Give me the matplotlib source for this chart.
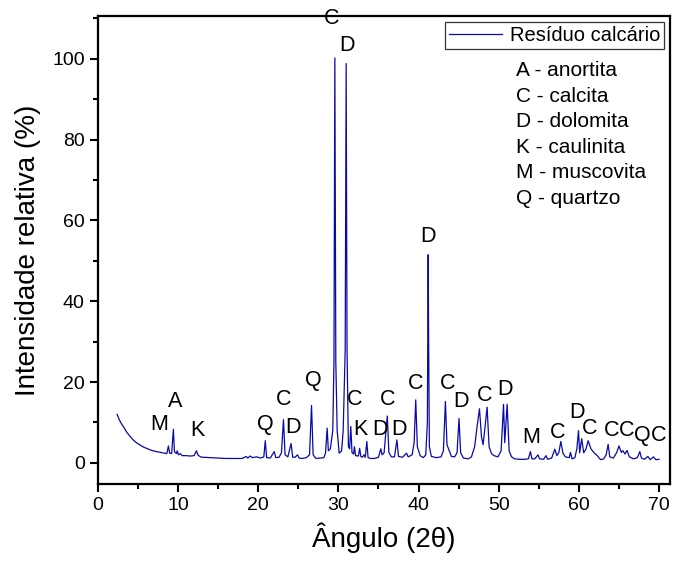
import matplotlib
matplotlib.use('Agg')
import matplotlib.pyplot as plt
from matplotlib.ticker import MultipleLocator

plt.rcParams['font.family'] = ['Liberation Sans', 'DejaVu Sans']

# 2theta (deg) and relative intensity (%)
two_theta = [
    2.4, 2.6, 2.8, 3.0, 3.3, 3.6, 4.0, 4.4, 4.8, 5.2, 5.7, 6.2, 6.7, 7.3, 7.8,
    8.3, 8.6, 8.8, 8.95, 9.2, 9.42, 9.55, 9.8, 9.9, 10.05, 10.3, 10.5, 11.0,
    11.5, 12.0, 12.3, 12.5, 12.8, 13.1, 14.0, 15.0, 16.0, 17.0, 18.0, 18.5,
    18.7, 19.0, 19.3, 19.8, 20.3, 20.7, 20.88, 21.05, 21.5, 22.0, 22.2, 22.6,
    22.9, 23.15, 23.35, 23.7, 24.1, 24.3, 24.6, 24.9, 25.1, 25.5, 26.0, 26.4,
    26.65, 26.85, 27.2, 27.7, 28.2, 28.4, 28.6, 28.75, 29.0, 29.3, 29.45,
    29.56, 29.68, 29.85, 30.1, 30.4, 30.6, 30.85, 30.97, 31.08, 31.25, 31.4,
    31.55, 31.7, 31.9, 32.0, 32.15, 32.5, 32.65, 32.8, 33.0, 33.2, 33.35,
    33.55, 33.7, 34.0, 34.5, 35.0, 35.3, 35.45, 35.7, 36.1, 36.3, 36.6, 37.0,
    37.3, 37.5, 38.0, 38.5, 38.7, 39.2, 39.45, 39.65, 39.85, 40.2, 40.6, 40.9,
    41.1, 41.2, 41.25, 41.35, 41.6, 42.2, 42.8, 43.1, 43.35, 43.55, 43.8,
    44.1, 44.5, 44.8, 45.05, 45.25, 45.6, 46.2, 46.6, 47.0, 47.3, 47.6, 47.85,
    48.05, 48.3, 48.55, 48.8, 49.1, 49.4, 49.9, 50.3, 50.6, 50.75, 51.05,
    51.3, 51.6, 52.0, 52.6, 53.2, 53.7, 53.95, 54.15, 54.5, 54.9, 55.1, 55.6,
    55.9, 56.1, 56.6, 57.0, 57.25, 57.5, 57.75, 58.0, 58.3, 58.8, 58.95,
    59.15, 59.5, 59.75, 59.95, 60.1, 60.35, 60.6, 60.9, 61.15, 61.5, 61.9,
    62.3, 62.7, 63.1, 63.4, 63.65, 63.85, 64.3, 64.7, 65.0, 65.3, 65.5, 65.75,
    66.0, 66.3, 66.8, 67.3, 67.6, 67.8, 68.2, 68.6, 68.9, 69.3, 69.6, 70.0,
]
intensity = [
    12.0, 11.0, 10.2, 9.5, 8.6, 7.6, 6.6, 5.7, 5.0, 4.5, 3.9, 3.5, 3.1, 2.8, 2.6,
    2.4, 2.3, 4.2, 2.4, 2.3, 8.3, 2.8, 2.3, 3.0, 2.0, 2.3, 1.8, 1.8,
    1.7, 1.8, 3.0, 1.9, 1.5, 1.4, 1.3, 1.2, 1.1, 1.1, 1.1, 1.6,
    1.2, 1.7, 1.3, 1.5, 1.2, 1.5, 5.5, 1.3, 1.2, 2.8, 1.3, 1.4,
    2.5, 10.7, 2.0, 1.5, 4.8, 1.4, 1.4, 2.0, 1.2, 1.1, 1.3, 2.0,
    14.2, 2.0, 1.1, 1.2, 1.3, 2.5, 8.6, 3.0, 3.5, 8.0, 25.0,
    100.2, 25.0, 8.0, 2.4, 3.0, 8.0, 28.0, 98.8, 28.0, 4.0, 3.5,
    9.0, 2.5, 2.2, 4.0, 1.8, 1.7, 3.6, 1.6, 1.4, 2.0, 1.4,
    5.3, 1.3, 1.1, 1.1, 1.4, 3.5, 2.0, 2.5, 11.6, 2.6, 1.5, 1.5,
    5.7, 1.6, 1.4, 2.4, 1.5, 2.0, 5.0, 15.6, 4.0, 1.8, 1.3, 2.0,
    10.0, 51.5, 33.0, 4.0, 1.6, 1.3, 1.5, 3.0, 15.2, 4.5, 3.2,
    1.6, 1.5, 2.5, 11.0, 2.5, 1.2, 1.0, 1.5, 4.0, 9.0, 13.4, 6.5,
    4.5, 9.0, 13.8, 4.0, 2.3, 1.8, 1.5, 3.0, 14.5, 5.0, 14.5,
    3.0, 1.5, 1.0, 0.9, 0.9, 1.0, 2.8, 1.0, 1.0, 2.0, 1.0, 0.9,
    1.8, 0.9, 1.2, 3.4, 1.8, 2.6, 5.3, 2.5, 1.5, 1.3, 2.6,
    1.0, 1.3, 3.5, 8.0, 2.5, 6.0, 2.5, 3.5, 5.5, 3.5, 2.5,
    1.8, 0.8, 1.0, 2.0, 4.6, 1.5, 1.2, 2.5, 4.2, 2.6, 3.0, 2.2,
    3.1, 1.5, 1.0, 1.3, 2.8, 1.2, 0.9, 1.6, 0.8, 1.5, 0.8, 0.9,
]

# phase letters over the peaks
peak_letters = ['M', 'A', 'K', 'Q', 'C', 'D', 'Q', 'C', 'D', 'C', 'K', 'D', 'C',
                'D', 'C', 'D', 'C', 'D', 'C', 'D', 'M', 'C', 'D', 'C', 'C', 'C',
                'Q', 'C']
peak_x = [7.6, 9.6, 12.4, 20.9, 23.2, 24.4, 26.9, 29.2, 31.1, 32.0, 32.7, 35.2,
          36.2, 37.6, 39.6, 41.2, 43.6, 45.3, 48.3, 50.8, 54.1, 57.4, 59.8,
          61.3, 64.1, 65.9, 67.9, 70.0]
peak_y = [9.4, 15.3, 7.9, 9.4, 15.8, 8.7, 20.3, 109.9, 103.2, 15.6, 8.2, 8.2,
          15.8, 8.2, 19.6, 55.9, 19.6, 15.1, 16.6, 18.1, 6.2, 7.4, 12.4, 8.4,
          7.9, 7.9, 6.9, 6.9]

phases = ['A - anortita', 'C - calcita', 'D - dolomita', 'K - caulinita',
          'M - muscovita', 'Q - quartzo']

fig = plt.figure(figsize=(6.75, 5.66), dpi=100)
ax = fig.add_axes([0.145, 0.145, 0.848, 0.827])

ax.plot(two_theta, intensity, color='#0a0aa8', lw=0.9, label='Resíduo calcário')

for t, x, y in zip(peak_letters, peak_x, peak_y):
    ax.text(x, y, t, ha='center', va='center', fontsize=15.5)

for i, s in enumerate(phases):
    ax.text(0.731, 0.883 - i * 0.0545, s, transform=ax.transAxes,
            ha='left', va='center', fontsize=15)

ax.set_xlim(0, 71.4)
ax.set_ylim(-5.2, 110.6)
ax.xaxis.set_major_locator(MultipleLocator(10))
ax.xaxis.set_minor_locator(MultipleLocator(5))
ax.yaxis.set_major_locator(MultipleLocator(20))
ax.yaxis.set_minor_locator(MultipleLocator(10))
ax.tick_params(which='major', direction='out', length=6, width=1.5, labelsize=14)
ax.tick_params(which='minor', direction='out', length=3.5, width=1.5)
for sp in ax.spines.values():
    sp.set_linewidth(1.6)

ax.set_xlabel('Ângulo (2θ)', fontsize=20, labelpad=6)
ax.set_ylabel('Intensidade relativa (%)', fontsize=20, labelpad=8)

leg = ax.legend(loc='upper right', fontsize=14.5, handlelength=2.6, frameon=True,
                fancybox=False, edgecolor='black', borderpad=0.2,
                handletextpad=0.4, borderaxespad=0.3)
leg.get_frame().set_linewidth(0.9)

fig.savefig('out.png', dpi=100)
